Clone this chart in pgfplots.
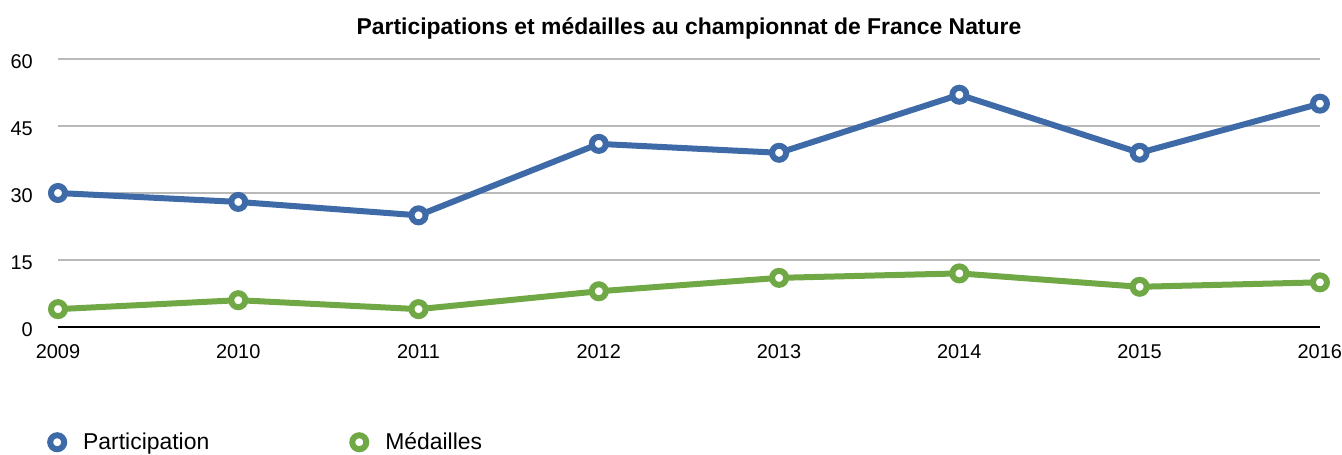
\documentclass[border=0pt]{standalone}
\usepackage{pgfplots}
\pgfplotsset{compat=1.18}
\usepackage{fontspec}
\setmainfont{Liberation Sans}
\definecolor{cblue}{RGB}{62,106,168}
\definecolor{cgreen}{RGB}{112,168,70}
\definecolor{cgrid}{RGB}{185,185,185}
\pgfplotsset{myline/.style={line width=6bp, mark=*,
    mark options={fill=white, line width=6bp, solid, mark size=7bp}}}
\begin{document}
\begin{tikzpicture}
\useasboundingbox (-58bp,-128bp) rectangle (1284bp,327bp);
\begin{axis}[
  scale only axis,
  width=1262bp, height=268bp,
  xmin=2009, xmax=2016, ymin=0, ymax=60,
  axis x line*=bottom, axis y line*=left,
  x axis line style={black, line width=1.5bp, -},
  y axis line style={draw=none},
  xtick={2009,...,2016}, ytick={0,15,30,45,60},
  major tick length=0pt,
  ymajorgrids, grid style={cgrid, line width=1.5bp},
  /pgf/number format/assume math mode=true,
  /pgf/number format/1000 sep={},
  ticklabel style={font=\fontsize{20}{23}\selectfont, inner sep=0pt},
  xticklabel style={anchor=north, yshift=-17bp},
  yticklabel style={anchor=east, xshift=-25bp, yshift=-3bp},
  title={\textbf{Participations et médailles au championnat de France Nature}},
  title style={font=\fontsize{23}{26}\selectfont, at={(0.5,1)}, anchor=center, yshift=25bp, inner sep=0pt},
  clip=false,
  legend columns=2,
  legend style={at={(axis description cs:0,-0.43)}, anchor=west, draw=none, fill=none,
    inner sep=0pt, xshift=-8bp, font=\fontsize{23}{26}\selectfont,
    /tikz/every even column/.append style={column sep=141bp}},
  legend cell align=left,
  legend image code/.code={\draw[#1,only marks] plot coordinates {(10bp,0bp)};},
]
\addplot[cblue, myline] coordinates {(2009,30)(2010,28)(2011,25)(2012,41)(2013,39)(2014,52)(2015,39)(2016,50)};
\addlegendentry{\hspace{17bp}Participation}
\addplot[cgreen, myline] coordinates {(2009,4)(2010,6)(2011,4)(2012,8)(2013,11)(2014,12)(2015,9)(2016,10)};
\addlegendentry{\hspace{17bp}Médailles}
\end{axis}
\end{tikzpicture}
\end{document}
